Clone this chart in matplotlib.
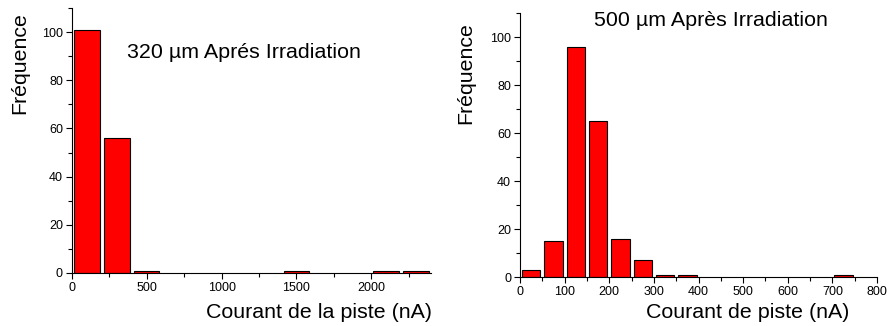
import matplotlib.pyplot as plt
from matplotlib.ticker import MultipleLocator

plt.rcParams['font.family'] = ['Liberation Sans', 'DejaVu Sans']

# 320 um histogram
centres_320 = [100, 300, 500, 1500, 2100, 2300]
counts_320 = [101, 56, 1, 1, 1, 1]

# 500 um histogram
centres_500 = [25, 75, 125, 175, 225, 275, 325, 375, 725]
counts_500 = [3, 15, 96, 65, 16, 7, 1, 1, 1]

fig = plt.figure(figsize=(8.92, 3.26), dpi=100)
ax1 = fig.add_axes([0.0807, 0.1626, 0.4025, 0.813])
ax2 = fig.add_axes([0.583, 0.150, 0.4002, 0.81])

ax1.bar(centres_320, counts_320, width=170, color='#ff0000', edgecolor='black', linewidth=0.8)
ax2.bar(centres_500, counts_500, width=41, color='#ff0000', edgecolor='black', linewidth=0.8)

for ax in (ax1, ax2):
	ax.spines['top'].set_visible(False)
	ax.spines['right'].set_visible(False)
	ax.set_ylim(0, 110)
	ax.yaxis.set_major_locator(MultipleLocator(20))
	ax.yaxis.set_minor_locator(MultipleLocator(10))
	ax.tick_params(which='major', length=4.5, width=0.8, labelsize=9, pad=2)
	ax.tick_params(which='minor', length=3, width=0.8)

ax1.set_xlim(0, 2400)
ax1.xaxis.set_major_locator(MultipleLocator(500))
ax1.xaxis.set_minor_locator(MultipleLocator(250))
ax2.set_xlim(0, 800)
ax2.xaxis.set_major_locator(MultipleLocator(100))
ax2.xaxis.set_minor_locator(MultipleLocator(50))

ax1.text(127 / 892, 1 - 53 / 326, "320 µm Aprés Irradiation", transform=fig.transFigure,
	fontsize=15.4, va='center', ha='left')
ax2.text(594 / 892, 1 - 20 / 326, "500 µm Après Irradiation", transform=fig.transFigure,
	fontsize=15.4, va='center', ha='left')

fig.text(20 / 892, 1 - 63 / 326, "Fréquence", rotation=90, fontsize=15.3, ha='center', va='center')
fig.text(466 / 892, 1 - 73 / 326, "Fréquence", rotation=90, fontsize=15.3, ha='center', va='center')
fig.text(432 / 892, 1 - 312 / 326, "Courant de la piste (nA)", fontsize=15.4, ha='right', va='center')
fig.text(849 / 892, 1 - 312 / 326, "Courant de piste (nA)", fontsize=15.4, ha='right', va='center')

fig.savefig("out.png", dpi=100)
